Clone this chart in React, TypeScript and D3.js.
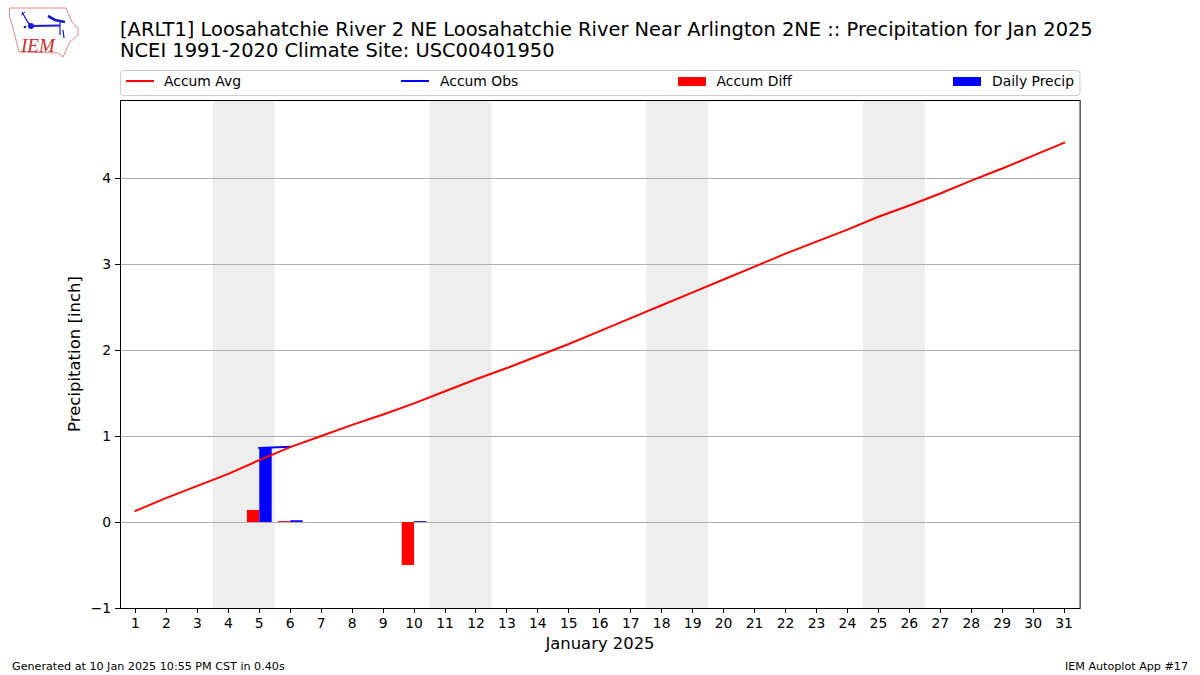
import { line, scaleLinear } from "d3";

const days = Array.from({ length: 31 }, (_, i) => i + 1);
const accumAvg = [
  0.13, 0.28, 0.42, 0.56, 0.72, 0.87, 1.0, 1.13, 1.25, 1.38, 1.52, 1.66, 1.79, 1.93, 2.07, 2.22,
  2.37, 2.52, 2.67, 2.82, 2.97, 3.12, 3.26, 3.4, 3.55, 3.68, 3.82, 3.97, 4.11, 4.26, 4.41,
];
const obsDays = [5, 6];
const accumObs = [0.86, 0.875];
const diffDays = [5, 6, 10];
const accumDiff = [0.14, 0.01, -0.5];
const precipDays = [5, 6, 10];
const dailyPrecip = [0.86, 0.02, 0.01];
const weekends = [
  [4, 5],
  [11, 12],
  [18, 19],
  [25, 26],
];
const yTicks = [-1, 0, 1, 2, 3, 4];
const legendLabels = ["Accum Avg", "Accum Obs", "Accum Diff", "Daily Precip"];

const font = "'DejaVu Sans', sans-serif";
const left = 120;
const right = 1079.6;
const top = 100;
const bottom = 608;
const barWidth = 0.4;

function Logo() {
  return (
    <g>
      <path
        d="M9.5 8 L66 8 L69 15 L72 22 L78 28 L78 35 L70 42 L67 48 L63 57 L58 53 L19 52 L16 40 L13 28 L9.5 17 Z"
        fill="#fff"
        stroke="#e08a8a"
        strokeWidth={1}
      />
      <g stroke="#1a1ad0" fill="none">
        <path d="M22 12 L27 21 L30 25" strokeWidth={1.3} />
        <path d="M21 15 L25 12" strokeWidth={1} />
        <path d="M31 26 L60 25.5" strokeWidth={1.8} />
        <path d="M60 21 L60 35" strokeWidth={1.2} />
        <path d="M63 30 L64 38" strokeWidth={1.2} />
        <path d="M48 16 L55 20 L65 22" strokeWidth={2.6} />
      </g>
      <circle cx={31} cy={26} r={3} fill="#1a1ad0" />
      <circle cx={25} cy={27} r={1.3} fill="#1a1ad0" />
      <text x={21} y={51.5} fontFamily="'Liberation Serif', serif" fontStyle="italic" fontSize={19} fill="#d02a2a">
        IEM
      </text>
    </g>
  );
}

export default function App() {
  const x = scaleLinear().domain([0.5, 31.5]).range([left, right]);
  const y = scaleLinear().domain([-1, 4.907]).range([bottom, top]);
  // gridlines and ticks sit on whole pixels, like the reference
  const yCrisp = (v: number) => Math.round(y(v)) + 0.5;
  const xCrisp = (v: number) => Math.floor(x(v)) + 0.5;
  const avgLine = line<number>()
    .x((_, i) => x(days[i]))
    .y((d) => y(d));
  const obsLine = line<number>()
    .x((_, i) => x(obsDays[i]))
    .y((d) => y(d));
  const legendX = [126, 401, 678, 953];
  const legendTextX = [164, 440, 716.5, 992];

  return (
    <svg
      width={1200}
      height={675}
      viewBox="0 0 1200 675"
      style={{ position: "absolute", left: 0, top: 0, background: "#fff" }}
      fontFamily={font}
    >
      <Logo />
      <text x={120} y={35.5} fontSize={19.46} fill="#000">
        [ARLT1] Loosahatchie River 2 NE Loosahatchie River Near Arlington 2NE :: Precipitation for Jan 2025
      </text>
      <text x={120} y={57} fontSize={19.46} fill="#000">
        NCEI 1991-2020 Climate Site: USC00401950
      </text>

      {weekends.map((w) => (
        <rect
          key={w[0]}
          x={x(w[0] - 0.5)}
          y={top}
          width={x(w[1] + 0.5) - x(w[0] - 0.5)}
          height={bottom - top}
          fill="#eeeeee"
        />
      ))}
      {yTicks.map((t) => (
        <line key={t} x1={left} x2={right} y1={yCrisp(t)} y2={yCrisp(t)} stroke="#b0b0b0" strokeWidth={1} />
      ))}

      {diffDays.map((d, i) => (
        <rect
          key={d}
          x={x(d - barWidth)}
          y={y(Math.max(accumDiff[i], 0))}
          width={x(d) - x(d - barWidth)}
          height={Math.abs(y(accumDiff[i]) - y(0))}
          fill="#ff0000"
        />
      ))}
      {precipDays.map((d, i) => (
        <rect
          key={d}
          x={x(d)}
          y={y(dailyPrecip[i])}
          width={x(d + barWidth) - x(d)}
          height={y(0) - y(dailyPrecip[i])}
          fill="#0000ff"
        />
      ))}
      <path d={obsLine(accumObs) ?? ""} fill="none" stroke="#0000ff" strokeWidth={2} strokeLinecap="square" />
      <path d={avgLine(accumAvg) ?? ""} fill="none" stroke="#ff0000" strokeWidth={2} strokeLinecap="square" />

      <rect x={left + 0.5} y={top + 0.5} width={right - left} height={bottom - top} fill="none" stroke="#000" strokeWidth={1} />

      {days.map((d) => (
        <g key={d}>
          <line x1={xCrisp(d)} x2={xCrisp(d)} y1={bottom} y2={bottom + 5} stroke="#000" strokeWidth={1} />
          <text x={x(d)} y={bottom + 20} fontSize={13.9} textAnchor="middle" fill="#000">
            {d}
          </text>
        </g>
      ))}
      {yTicks.map((t) => (
        <g key={t}>
          <line x1={left - 5} x2={left} y1={yCrisp(t)} y2={yCrisp(t)} stroke="#000" strokeWidth={1} />
          <text x={left - 9} y={yCrisp(t) + 4.5} fontSize={13.9} textAnchor="end" fill="#000">
            {t < 0 ? `\u2212${-t}` : t}
          </text>
        </g>
      ))}
      <text x={600} y={649} fontSize={16.4} textAnchor="middle" fill="#000">
        January 2025
      </text>
      <text transform="translate(80,354) rotate(-90)" fontSize={16.5} textAnchor="middle" fill="#000">
        Precipitation [inch]
      </text>

      <rect x={120.5} y={70.5} width={959.5} height={25} rx={3} fill="#fff" stroke="#cccccc" strokeWidth={1} />
      <line x1={legendX[0]} x2={legendX[0] + 28} y1={81} y2={81} stroke="#ff0000" strokeWidth={2} />
      <line x1={legendX[1]} x2={legendX[1] + 28} y1={81} y2={81} stroke="#0000ff" strokeWidth={2} />
      <rect x={legendX[2]} y={77} width={28} height={9} fill="#ff0000" />
      <rect x={legendX[3]} y={77} width={28} height={9} fill="#0000ff" />
      {legendLabels.map((label, i) => (
        <text key={label} x={legendTextX[i]} y={86} fontSize={13.9} fill="#000">
          {label}
        </text>
      ))}

      <text x={12} y={670} fontSize={11.15} fill="#000">
        Generated at 10 Jan 2025 10:55 PM CST in 0.40s
      </text>
      <text x={1188} y={670} fontSize={11.15} textAnchor="end" fill="#000">
        IEM Autoplot App #17
      </text>
    </svg>
  );
}
